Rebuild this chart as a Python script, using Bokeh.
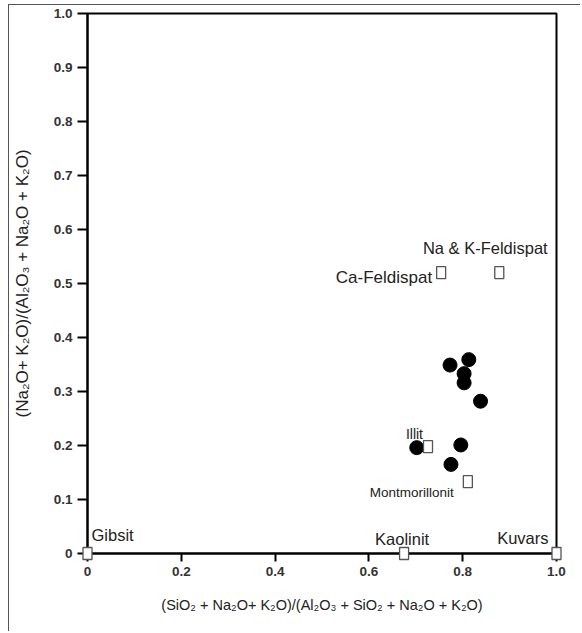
from bokeh.plotting import figure
from bokeh.models import Range1d, FixedTicker, Label
from bokeh.embed import file_html
from bokeh.resources import INLINE

# ---- data ----
sample_x = [0.773, 0.813, 0.803, 0.803, 0.838, 0.702, 0.796, 0.775]
sample_y = [0.349, 0.359, 0.333, 0.316, 0.282, 0.196, 0.201, 0.165]

mineral_names = ["Gibsit", "Kaolinit", "Kuvars", "Montmorillonit", "Illit",
                 "Ca-Feldispat", "Na & K-Feldispat"]
mineral_x = [0.0, 0.675, 1.0, 0.811, 0.726, 0.754, 0.878]
mineral_y = [0.0, 0.0, 0.0, 0.133, 0.198, 0.520, 0.520]

x_ticks = [0, 0.2, 0.4, 0.6, 0.8, 1.0]
x_tick_labels = ["0", "0.2", "0.4", "0.6", "0.8", "1.0"]
y_ticks = [0, 0.1, 0.2, 0.3, 0.4, 0.5, 0.6, 0.7, 0.8, 0.9, 1.0]
y_tick_labels = ["0", "0.1", "0.2", "0.3", "0.4", "0.5", "0.6", "0.7", "0.8", "0.9", "1.0"]

x_title = "(SiO\u2082 + Na\u2082O+ K\u2082O)/(Al\u2082O\u2083 + SiO\u2082 + Na\u2082O + K\u2082O)"
y_title = "(Na\u2082O+ K\u2082O)/(Al\u2082O\u2083 + Na\u2082O + K\u2082O)"

FONT = "Liberation Sans"
TXT = "#222222"

p = figure(width=572, height=627, output_backend="svg", toolbar_location=None,
           x_range=Range1d(0, 1), y_range=Range1d(0, 1),
           min_border_left=72, min_border_right=25, min_border_top=8,
           min_border_bottom=79)
p.styles = {"margin-left": "8px", "margin-top": "4px",
            "border-left": "1px solid #555555", "border-top": "1px solid #555555"}
p.grid.visible = False
p.background_fill_color = "white"
p.border_fill_color = "white"
p.outline_line_color = "black"
p.outline_line_width = 2

for ax, ticks, labels, tout in ((p.xaxis[0], x_ticks, x_tick_labels, 8),
                                (p.yaxis[0], y_ticks, y_tick_labels, 10)):
    ax.ticker = FixedTicker(ticks=ticks)
    ax.major_label_overrides = {t: l for t, l in zip(ticks, labels)}
    ax.minor_tick_line_color = None
    ax.axis_line_width = 2
    ax.axis_line_color = "black"
    ax.major_tick_line_width = 2
    ax.major_tick_line_color = "black"
    ax.major_tick_out = tout
    ax.major_tick_in = 0
    ax.major_label_text_font = FONT
    ax.major_label_text_font_size = "13.5px"
    ax.major_label_text_font_style = "bold"
    ax.major_label_text_color = "#333333"
    ax.major_label_standoff = 5
    ax.axis_label_text_font = FONT
    ax.axis_label_text_font_style = "normal"
    ax.axis_label_text_color = TXT

p.xaxis.axis_label = x_title
p.yaxis.axis_label = y_title
p.xaxis.axis_label_text_font_size = "14.5px"
p.yaxis.axis_label_text_font_size = "17px"
p.xaxis.axis_label_standoff = 18
p.yaxis.axis_label_standoff = 19

p.scatter(sample_x, sample_y, marker="circle", size=14,
          fill_color="black", line_color="black")

p.rect(mineral_x, mineral_y, width=9, height=12, width_units="screen",
       height_units="screen", fill_color="white", line_color="#555555",
       line_width=1.3, level="overlay")

# label placement (screen offsets from each mineral point)
label_style = {
    "Gibsit": dict(dx=4, dy=19, align="left", size="16.5px"),
    "Kaolinit": dict(dx=-2, dy=15, align="center", size="16.5px"),
    "Kuvars": dict(dx=-8, dy=16, align="right", size="16.5px"),
    "Montmorillonit": dict(dx=-14, dy=-11, align="right", size="13.5px"),
    "Illit": dict(dx=-5, dy=13, align="right", size="14px"),
    "Ca-Feldispat": dict(dx=-9, dy=-5, align="right", size="17px"),
    "Na & K-Feldispat": dict(dx=-14, dy=25, align="center", size="16.5px"),
}
for name, mx, my in zip(mineral_names, mineral_x, mineral_y):
    s = label_style[name]
    p.add_layout(Label(x=mx, y=my, text=name, x_offset=s["dx"], y_offset=s["dy"],
                       text_align=s["align"], text_baseline="middle",
                       text_font=FONT, text_font_size=s["size"],
                       text_color=TXT))

open("out.html", "w").write(file_html(p, INLINE))
